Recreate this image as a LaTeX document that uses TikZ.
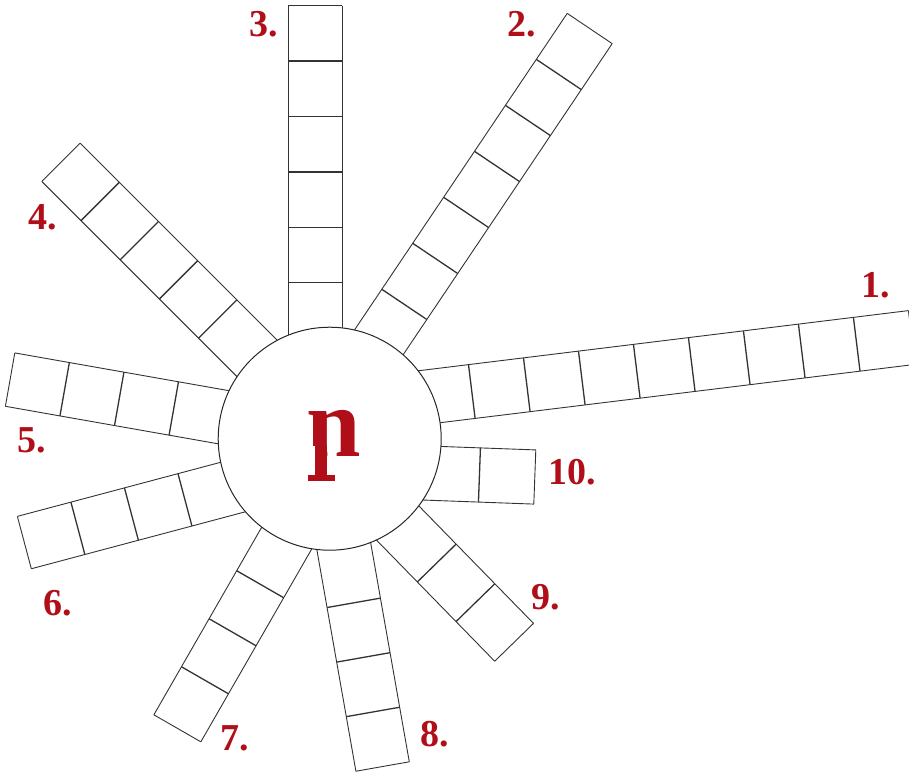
\documentclass[tikz,border=0pt]{standalone}
\usepackage{fontspec}
\setmainfont{Liberation Serif}
\usetikzlibrary{positioning}
\definecolor{labelred}{RGB}{176,14,24}

\newcommand{\cellsize}{55.4}
\newcommand{\halfw}{27.1}
% one row of cells: outer end, angle, number of cells
\newcommand{\cellrow}[3]{%
  \begin{scope}[shift={(#1)}, rotate=#2]
    \draw[cell] (0,-\halfw) -- (0,\halfw);
    \draw[cell] (0,-\halfw) -- ({-(#3+0.6)*\cellsize},-\halfw);
    \draw[cell] (0,\halfw) -- ({-(#3+0.6)*\cellsize},\halfw);
    \pgfmathtruncatemacro\lastk{#3-1}
    \foreach \k in {1,...,\lastk}
      \draw[divider] ({-\k*\cellsize},-\halfw) -- ({-\k*\cellsize},\halfw);
  \end{scope}}

\begin{document}
\begin{tikzpicture}[x=1pt, y=-1pt,
    cell/.style={line width=0.9pt, black!80},
    divider/.style={line width=1.3pt, black!80},
    hub/.style={circle, draw=black!85, line width=1pt, fill=white, minimum size=223pt, inner sep=0pt},
    num/.style={text=labelred, font=\fontsize{38}{40}\selectfont\bfseries, inner sep=0pt}]
    \useasboundingbox (0,0) rectangle (909,772);

    \cellrow{911.7,337.5}{7.0}{9}
    \cellrow{589.7,28.5}{56.1}{7}
    \cellrow{315.3,5.7}{90}{6}
    \cellrow{61,162.3}{135}{5}
    \cellrow{10.1,379.6}{170}{4}
    \cellrow{24.35,542.55}{194.9}{4}
    \cellrow{177.35,728.3}{240.1}{4}
    \cellrow{382.6,766.5}{280}{4}
    \cellrow{514.1,642.3}{314.3}{3}
    \cellrow{534.8,477}{357.9}{2}

    \node[hub] (hub) at (329.7,438.7) {};
    \node[text=labelred, font=\fontsize{98}{100}\selectfont\bfseries, inner sep=0pt, outer sep=0pt, anchor=base west] (eta) at (306.3,456.7) {n};
    % long left stem, no foot on the baseline
    \fill[white] (304,446) rectangle (315,459) (327.3,446) rectangle (334.5,459);
    \fill[labelred] (315,445) rectangle (327.3,476);
    \fill[labelred] (308.3,475) rectangle (335,480.5);

    \node[num] (lab1) at (876,285) {1.};
    \node[num] (lab2) at (521.7,24) {2.};
    \node[num] (lab3) at (263.3,24) {3.};
    \node[num] (lab4) at (43,217) {4.};
    \node[num] (lab5) at (32,440) {5.};
    \node[num] (lab6) at (58,603) {6.};
    \node[num] (lab7) at (235,738) {7.};
    \node[num] (lab8) at (435,734) {8.};
    \node[num] (lab9) at (545.5,597.5) {9.};
    \node[num] (lab10) at (572,472) {10.};
\end{tikzpicture}
\end{document}
